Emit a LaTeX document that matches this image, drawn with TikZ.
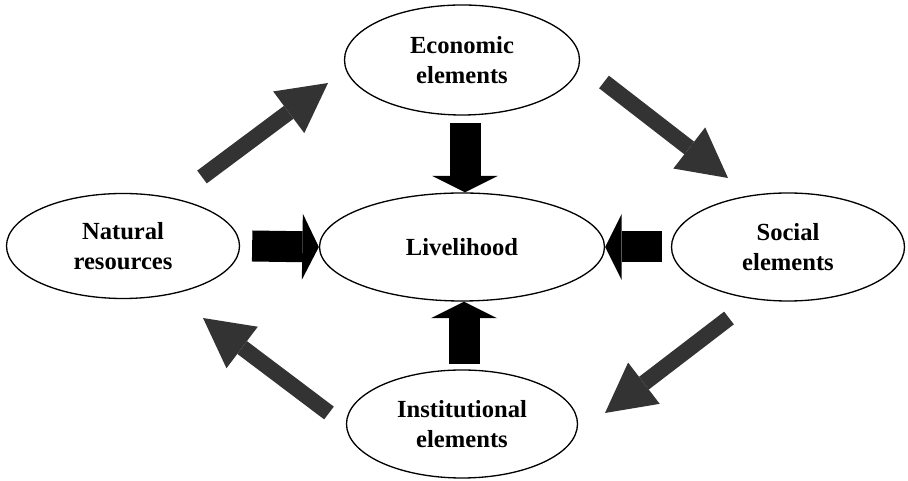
\documentclass[tikz,border=0pt]{standalone}
\usepackage{fontspec}
\setmainfont{Liberation Serif}
\usetikzlibrary{shapes.geometric,arrows.meta}
\definecolor{darkarrow}{HTML}{333333}
\begin{document}
\begin{tikzpicture}[
  elem/.style={ellipse, draw, line width=0.75pt, inner sep=0pt, minimum width=4.66cm, minimum height=2.16cm, align=center, font=\fontsize{14}{17}\selectfont\bfseries},
  blockarrow/.style={line width=0.62cm, -{Triangle[length=0.33cm, width=1.32cm, line width=0pt]}},
  flowarrow/.style={darkarrow, line width=0.32cm, -{Triangle[length=0.98cm, width=1.04cm, line width=0pt]}}]
\useasboundingbox (0,0) rectangle (18.16,9.62);

\node [elem, minimum width=4.7cm, minimum height=2.2cm] (v1) at (9.24,8.42) {Economic\\elements};
\node [elem, minimum width=5.7cm] (v2) at (9.24,4.68) {Livelihood};
\node [elem, minimum height=2.1cm] (v3) at (2.46,4.70) {Natural\\resources};
\node [elem] (v4) at (15.76,4.68) {Social\\elements};
\node [elem, minimum width=4.62cm] (v5) at (9.24,1.14) {Institutional\\elements};

\draw [blockarrow] ([yshift=-0.14cm, xshift=0.06cm]v1.south) -- ([xshift=0.06cm]v2.north);
\draw [blockarrow] ([xshift=0.24cm]v3.east) -- (v2.west);
\draw [blockarrow] ([xshift=-0.18cm]v4.west) -- (v2.east);
\draw [blockarrow] ([yshift=0.1cm, xshift=0.04cm]v5.north) -- ([xshift=0.04cm]v2.south);

\coordinate (v6) at (4.04,6.08);
\coordinate (v7) at (6.56,7.96);
\coordinate (v8) at (12.08,7.98);
\coordinate (v9) at (14.56,6.06);
\coordinate (v10) at (14.58,3.26);
\coordinate (v11) at (12.10,1.36);
\coordinate (v12) at (6.58,1.36);
\coordinate (v13) at (4.06,3.26);
\draw [flowarrow] (v6) -- (v7);
\draw [flowarrow] (v8) -- (v9);
\draw [flowarrow] (v10) -- (v11);
\draw [flowarrow] (v12) -- (v13);
\end{tikzpicture}
\end{document}
